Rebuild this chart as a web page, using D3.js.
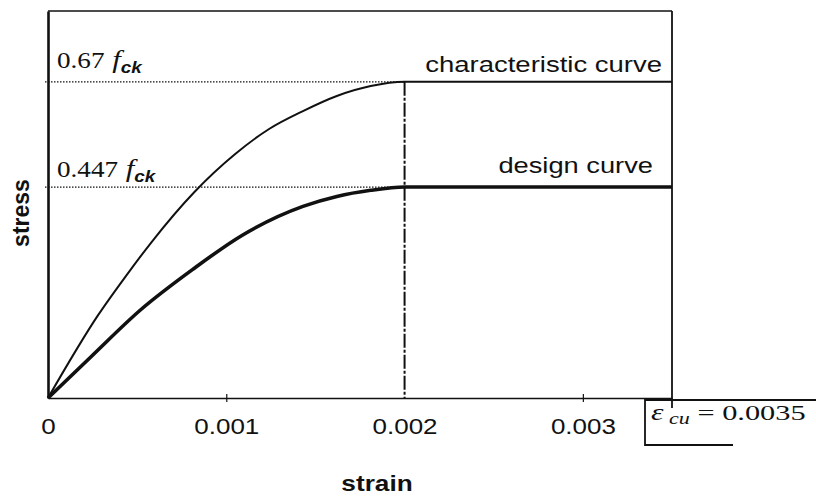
<!DOCTYPE html>
<html>
<head>
<meta charset="utf-8">
<script src="https://cdn.jsdelivr.net/npm/d3@7"></script>
<style>
  html, body { margin: 0; padding: 0; background: #fff; }
  svg { display: block; }
  .sans { font-family: "Liberation Sans", Arial, sans-serif; }
  .serif { font-family: "Liberation Serif", "Times New Roman", serif; }
</style>
</head>
<body>
<svg id="chart" width="816" height="497"></svg>
<script>
// Concrete stress–strain idealisation: characteristic and design parabola-rectangle curves
const tickValues = [0, 0.001, 0.002, 0.003];
const tickLabels = ["0", "0.001", "0.002", "0.003"];

const peakStrain = 0.002;      // end of parabolic branch
const ultimateStrain = 0.0035; // εcu
const charPeak = 0.67;         // 0.67 fck
const designPeak = 0.447;      // 0.447 fck

const charStrain = [0, 0.00028, 0.00044, 0.00058, 0.00082, 0.00105, 0.00124, 0.00143, 0.00162, 0.00181, 0.002, 0.0035];
const charStress = [0, 0.175, 0.26, 0.33, 0.436, 0.517, 0.57, 0.608, 0.64, 0.661, 0.67, 0.67];

const designStrain = [0, 0.00024, 0.00052, 0.00081, 0.00109, 0.00143, 0.00162, 0.00181, 0.002, 0.0035];
const designStress = [0, 0.087, 0.187, 0.272, 0.345, 0.406, 0.427, 0.44, 0.447, 0.447];

const svg = d3.select("#chart");
const x = d3.scaleLinear().domain([0, ultimateStrain]).range([48, 672]);
const y = d3.scaleLinear().domain([0, 0.82]).range([398, 11]);

const ink = "#111";

// stretched text helper (wide lettering of the original figure)
function stretchedText(px, py, sx, anchor) {
  const g = svg.append("g").attr("transform", `translate(${px},${py}) scale(${sx},1)`);
  return g.append("text").attr("text-anchor", anchor || "start").attr("fill", ink);
}

// frame: top and right edges
svg.append("line")
  .attr("x1", x(0)).attr("x2", x(ultimateStrain))
  .attr("y1", y(0.82)).attr("y2", y(0.82))
  .attr("stroke", ink).attr("stroke-width", 1.5);
svg.append("line")
  .attr("x1", x(ultimateStrain)).attr("x2", x(ultimateStrain))
  .attr("y1", y(0.82)).attr("y2", y(0) + 10)
  .attr("stroke", ink).attr("stroke-width", 1.8);

// x axis (strain)
const xAxis = d3.axisBottom(x).tickValues(tickValues)
  .tickFormat((d, i) => tickLabels[i]).tickSize(0).tickPadding(0);
const gx = svg.append("g").attr("transform", `translate(0,${y(0)})`).call(xAxis);
gx.select(".domain").attr("stroke", ink).attr("stroke-width", 1.5);
gx.selectAll(".tick text")
  .attr("class", "sans")
  .attr("y", 36).attr("dy", 0)
  .attr("font-size", 22)
  .attr("fill", ink)
  .attr("transform", "scale(1.18,1)");
// small cross ticks on the axis
gx.selectAll(".tick").filter(d => d !== 0 && d !== peakStrain)
  .append("line").attr("y1", -4).attr("y2", 4)
  .attr("stroke", ink).attr("stroke-width", 1.2);

// y axis (stress): heavy left edge
const yAxis = d3.axisLeft(y).tickValues([]).tickSize(0);
const gy = svg.append("g").attr("transform", `translate(${x(0)},0)`).call(yAxis);
gy.select(".domain").attr("stroke", ink).attr("stroke-width", 2.6);

// dotted guides at the two stress plateaus
[charPeak, designPeak].forEach(v => {
  svg.append("line")
    .attr("x1", x(0) - 3).attr("x2", x(peakStrain))
    .attr("y1", y(v)).attr("y2", y(v))
    .attr("stroke", ink).attr("stroke-width", 1.3)
    .attr("stroke-dasharray", "1.5,1.5");
});

// vertical guide at the end of the parabolic branch
svg.append("line")
  .attr("x1", x(peakStrain)).attr("x2", x(peakStrain))
  .attr("y1", y(charPeak)).attr("y2", y(0))
  .attr("stroke", ink).attr("stroke-width", 2)
  .attr("stroke-dasharray", "14,2,3,2");

// curves
const line = d3.line().x(d => x(d[0])).y(d => y(d[1])).curve(d3.curveMonotoneX);
svg.append("path")
  .datum(charStrain.map((s, i) => [s, charStress[i]]))
  .attr("d", line).attr("fill", "none")
  .attr("stroke", ink).attr("stroke-width", 2);
svg.append("path")
  .datum(designStrain.map((s, i) => [s, designStress[i]]))
  .attr("d", line).attr("fill", "none")
  .attr("stroke", ink).attr("stroke-width", 3.6);

// plateau labels  0.67 fck / 0.447 fck
function fckLabel(value, text, dyAbove) {
  const t = stretchedText(57, y(value) - dyAbove, 1.18, "start").attr("class", "serif").attr("font-size", 23);
  t.append("tspan").text(text);
  t.append("tspan").attr("font-style", "italic").attr("font-size", 26).text(" f");
  t.append("tspan").attr("class", "sans").attr("font-style", "italic").attr("font-weight", "bold")
    .attr("font-size", 16).attr("dy", 5).text("ck");
}
fckLabel(charPeak, "0.67", 14);
fckLabel(designPeak, "0.447", 10);

// curve names
stretchedText(662, y(charPeak) - 10, 1.25, "end").attr("class", "sans").attr("font-size", 22)
  .text("characteristic curve");
stretchedText(653, y(designPeak) - 14, 1.24, "end").attr("class", "sans").attr("font-size", 22)
  .text("design curve");

// axis titles
stretchedText(377, 491, 1.19, "middle").attr("class", "sans").attr("font-size", 22)
  .attr("font-weight", "bold").text("strain");
svg.append("text").attr("class", "sans")
  .attr("transform", `translate(29,213) rotate(-90)`)
  .attr("text-anchor", "middle").attr("font-size", 23).attr("font-weight", "bold")
  .attr("fill", ink).text("stress");

// εcu annotation box
svg.append("path")
  .attr("d", `M816,${y(0) + 2} H645 V445 H733`)
  .attr("fill", "none").attr("stroke", ink).attr("stroke-width", 1.8);
const eps = stretchedText(651, 420, 1.38, "start").attr("class", "serif").attr("font-size", 22);
eps.append("tspan").attr("font-style", "italic").attr("font-size", 23).text("ε");
eps.append("tspan").attr("font-style", "italic").attr("font-size", 16).attr("dy", 4).text(" cu");
eps.append("tspan").attr("dy", -4).text(" = " + ultimateStrain.toString());
</script>
</body>
</html>
